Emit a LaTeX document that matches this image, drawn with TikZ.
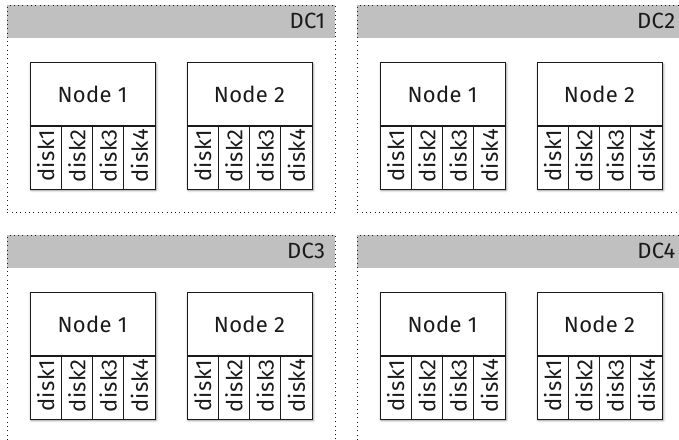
\documentclass[tikz,border=0pt]{standalone}
\usepackage{fontspec}
\setmainfont[LetterSpace=1.5]{Fira Sans}
\usetikzlibrary{shadows.blur,calc}
\definecolor{headgray}{RGB}{192,192,192}
\definecolor{ink}{RGB}{26,26,26}
\tikzset{
  dcframe/.style={draw=ink, dash pattern=on 0.9pt off 3.4pt, line width=0.9pt,
    minimum width=328pt, minimum height=207pt, inner sep=0pt, anchor=north west},
  dchead/.style={fill=headgray, draw=none, minimum width=328pt, minimum height=33pt,
    inner sep=0pt, anchor=north west},
  dclabel/.style={text=ink, font=\fontsize{22}{26}\selectfont, anchor=east, inner sep=0pt},
  hostshell/.style={fill=white, minimum width=125pt, minimum height=126pt, inner sep=0pt,
    anchor=north west, blur shadow={shadow xshift=1.5pt, shadow yshift=-2pt,
    shadow blur radius=2.5pt, shadow opacity=45}},
  hostbox/.style={draw=ink, line width=0.9pt, fill=white, minimum width=125pt,
    minimum height=63pt, inner sep=0pt, anchor=north west, text=ink,
    font=\fontsize{22}{26}\selectfont},
  diskbox/.style={draw=ink, line width=0.9pt, fill=white, minimum width=31.25pt,
    minimum height=63pt, inner sep=0pt, anchor=north west, text=ink,
    font=\fontsize{22}{26}\selectfont},
}
% one server: name, caption, top-left corner
\newcommand\serverblock[4]{%
  \node[hostshell] (#1) at (#3,#4) {};
  \node[hostbox] (#1top) at (#3,#4) {#2};
  \foreach \k in {1,...,4}{%
    \node[diskbox] (#1d\k) at ($(#1top.south west)+({(\k-1)*31.25},0)$)
      {\rotatebox{90}{\hspace{4pt}disk\k}};
  }%
}
% one data centre: name, caption, top-left corner
\newcommand\dcblock[4]{%
  \node[dchead] (#1head) at (#3,#4) {};
  \node[dcframe] (#1) at (#3,#4) {};
  \node[dclabel] (#1label) at ($(#1head.east)+(-10,-1)$) {#2};
  \serverblock{#1a}{Node 1}{#3+22.5}{#4+57}
  \serverblock{#1b}{Node 2}{#3+179.5}{#4+57}
}
\begin{document}
\begin{tikzpicture}[x=1pt,y=-1pt]
  \useasboundingbox (0,0) rectangle (679,439);
  \clip (0,0) rectangle (679,439);
  \dcblock{dcone}{DC1}{7}{5}
  \dcblock{dctwo}{DC2}{357}{5}
  \dcblock{dcthree}{DC3}{7}{235}
  \dcblock{dcfour}{DC4}{357}{235}
\end{tikzpicture}
\end{document}
